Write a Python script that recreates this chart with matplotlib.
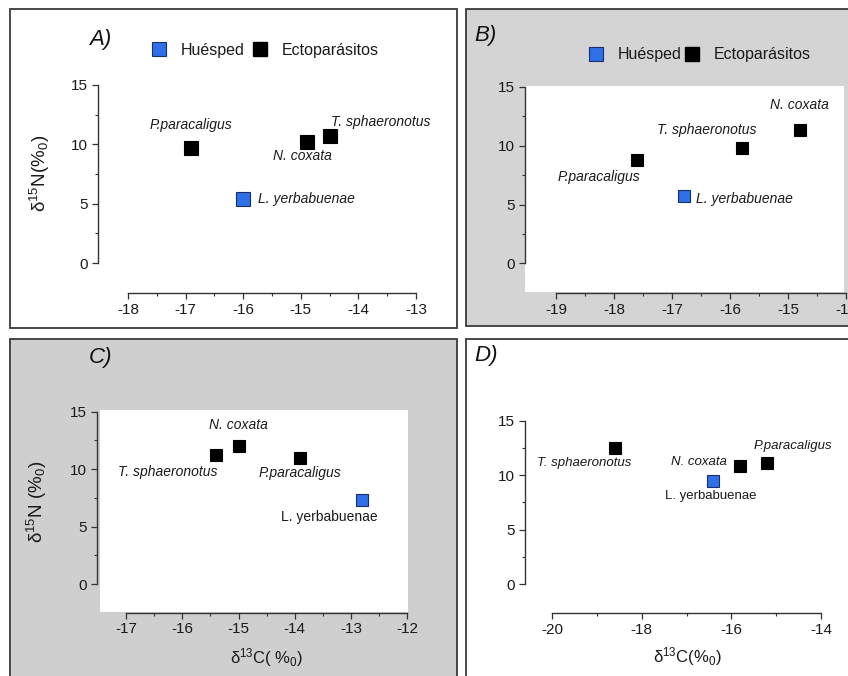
import matplotlib
matplotlib.use("Agg")
import numpy as np
import matplotlib.pyplot as plt
from matplotlib.patches import Rectangle
from matplotlib.lines import Line2D
from matplotlib.ticker import FixedLocator

plt.rcParams['font.family'] = ['Liberation Sans', 'DejaVu Sans']
plt.rcParams['mathtext.fontset'] = 'custom'
plt.rcParams['mathtext.rm'] = 'Liberation Sans'
plt.rcParams['mathtext.it'] = 'Liberation Sans:italic'
plt.rcParams['axes.unicode_minus'] = False

W, H = 848, 676

# ---- data (δ13C, δ15N) per panel ----
species_A = ["P.paracaligus", "N. coxata", "T. sphaeronotus", "L. yerbabuenae"]
d13C_A = [-16.9, -14.9, -14.5, -16.0]
d15N_A = [9.7, 10.2, 10.7, 5.4]
host_A = [False, False, False, True]

species_B = ["P.paracaligus", "T. sphaeronotus", "N. coxata", "L. yerbabuenae"]
d13C_B = [-17.6, -15.8, -14.8, -16.8]
d15N_B = [8.8, 9.8, 11.3, 5.7]
host_B = [False, False, False, True]

species_C = ["T. sphaeronotus", "N. coxata", "P.paracaligus", "L. yerbabuenae"]
d13C_C = [-15.4, -15.0, -13.9, -12.8]
d15N_C = [11.2, 12.0, 11.0, 7.3]
host_C = [False, False, False, True]

species_D = ["T. sphaeronotus", "N. coxata", "P.paracaligus", "L. yerbabuenae"]
d13C_D = [-18.6, -15.8, -15.2, -16.4]
d15N_D = [12.5, 10.8, 11.1, 9.5]
host_D = [False, False, False, True]

legend_labels = ["Huésped", "Ectoparásitos"]

HOST_COLOR = "#2f6fe8"
HOST_EDGE = "#1a2f6a"
PARA_COLOR = "#000000"
SPINE = "#333333"
GRAY_BG = "#d4d4d4"

fig = plt.figure(figsize=(W / 100, H / 100), dpi=100)
fig.patch.set_facecolor("white")


def fx(x):
    return x / W


def fy(y):
    return 1 - y / H


def panel_box(x0, y0, x1, y1, face):
    fig.patches.append(Rectangle((fx(x0), fy(y1)), fx(x1) - fx(x0), fy(y0) - fy(y1),
                                 transform=fig.transFigure, facecolor=face,
                                 edgecolor="#3a3a3a", linewidth=1.3, zorder=0))


def white_area(x0, y0, x1, y1):
    fig.patches.append(Rectangle((fx(x0), fy(y1)), fx(x1) - fx(x0), fy(y0) - fy(y1),
                                 transform=fig.transFigure, facecolor="white",
                                 edgecolor="none", zorder=0.5))


def make_axes(yspine_px, xa_px, xb_px, xa, xb, xspine_px, y0_px, y15_px, xstep):
    """Axes whose spines are detached from the data range (Prism style)."""
    ppx = (xb_px - xa_px) / (xb - xa)
    ppy = (y0_px - y15_px) / 15.0
    xmin = xa - (xa_px - yspine_px) / ppx
    ymin = 0 - (xspine_px - y0_px) / ppy
    ax = fig.add_axes([fx(yspine_px), fy(xspine_px),
                       fx(xb_px) - fx(yspine_px), fy(y15_px) - fy(xspine_px)])
    ax.set_zorder(3)
    ax.set_xlim(xmin, xb)
    ax.set_ylim(ymin, 15)
    ax.patch.set_alpha(0)
    for s in ["top", "right"]:
        ax.spines[s].set_visible(False)
    ax.spines["left"].set_bounds(0, 15)
    ax.spines["bottom"].set_bounds(xa, xb)
    for s in ["left", "bottom"]:
        ax.spines[s].set_color(SPINE)
        ax.spines[s].set_linewidth(1.0)
    ax.set_yticks([0, 5, 10, 15])
    ax.yaxis.set_minor_locator(FixedLocator([2.5, 7.5, 12.5]))
    majors = np.arange(xa, xb + 0.01, xstep)
    ax.set_xticks(majors)
    ax.set_xticklabels([f"{int(v)}" for v in majors])
    ax.xaxis.set_minor_locator(FixedLocator(majors[:-1] + xstep / 2))
    ax.tick_params(which="major", length=4, width=0.9, color=SPINE,
                   labelsize=11, labelcolor="#1a1a1a", pad=3)
    ax.tick_params(which="minor", length=2.2, width=0.8, color=SPINE)
    return ax


def draw_points(ax, xs, ys, hosts, ms):
    for x, y, h in zip(xs, ys, hosts):
        if h:
            ax.plot(x, y, "s", ms=ms, mfc=HOST_COLOR, mec=HOST_EDGE, mew=0.8,
                    clip_on=False, zorder=3)
        else:
            ax.plot(x, y, "s", ms=ms, mfc=PARA_COLOR, mec=PARA_COLOR, mew=0.8,
                    clip_on=False, zorder=3)


def label(ax, name, x, y, dx, dy, ha="center", style="italic", size=10):
    ax.annotate(name, (x, y), xytext=(dx / 1.389, dy / 1.389),
                textcoords="offset points", ha=ha, va="center",
                fontsize=size, style=style, color="#1a1a1a", zorder=4,
                annotation_clip=False)


def add_legend(ax, x_px, y_px, colspace):
    handles = [Line2D([], [], ls="none", marker="s", ms=9.5, mfc=HOST_COLOR, mec=HOST_EDGE, mew=0.8),
               Line2D([], [], ls="none", marker="s", ms=9.5, mfc=PARA_COLOR, mec=PARA_COLOR)]
    leg = ax.legend(handles, legend_labels, loc="center left",
                    bbox_to_anchor=(fx(x_px), fy(y_px)), bbox_transform=fig.transFigure,
                    ncol=2, frameon=False, fontsize=11.5, handlelength=1.0,
                    handletextpad=0.85, columnspacing=colspace, borderpad=0,
                    borderaxespad=0)
    for t in leg.get_texts():
        t.set_color("#1a1a1a")


def ylabel_text(x_px, y_px, text):
    fig.text(fx(x_px), fy(y_px), text, rotation=90, ha="center", va="center",
             fontsize=13.5, color="#1a1a1a", zorder=5)


def xlabel_text(x_px, y_px, text):
    fig.text(fx(x_px), fy(y_px), text, ha="center", va="center",
             fontsize=12, color="#1a1a1a", zorder=5)


def panel_tag(x_px, y_px, text):
    fig.text(fx(x_px), fy(y_px), text, ha="left", va="center",
             fontsize=16, style="italic", color="#111111", zorder=5)


# ---- panel frames ----
panel_box(10, 9, 457, 328, "white")
panel_box(466, 9, 852, 326, GRAY_BG)
panel_box(10, 339, 457, 680, "#cfcfcf")
panel_box(466, 339, 852, 680, "white")
white_area(525, 86, 844, 292)
white_area(100, 410, 408, 612)

# ---- A ----
axA = make_axes(98, 128, 416, -18, -13, 293, 263, 85, 1)
draw_points(axA, d13C_A, d15N_A, host_A, 9.5)
offA = {"P.paracaligus": (0, 23, "center"), "N. coxata": (-4, -14, "center"),
        "T. sphaeronotus": (1, 14, "left"), "L. yerbabuenae": (15, 0, "left")}
for n, x, y in zip(species_A, d13C_A, d15N_A):
    dx, dy, ha = offA[n]
    label(axA, n, x, y, dx, dy, ha=ha)
add_legend(axA, 151, 50, 0.5)
ylabel_text(40, 173, r"δ$^{15}$N(%$_0$)")
panel_tag(89, 40, "A)")

# ---- B ----
axB = make_axes(525, 556, 846, -19, -14, 293, 263.3, 87, 1)
draw_points(axB, d13C_B, d15N_B, host_B, 9)
offB = {"P.paracaligus": (-38, -17, "center"), "T. sphaeronotus": (-35, 18, "center"),
        "N. coxata": (0, 25, "center"), "L. yerbabuenae": (12, -3, "left")}
for n, x, y in zip(species_B, d13C_B, d15N_B):
    dx, dy, ha = offB[n]
    label(axB, n, x, y, dx, dy, ha=ha)
add_legend(axB, 588, 55, 0.15)
panel_tag(474, 35, "B)")

# ---- C ----
axC = make_axes(97, 126, 407.3, -17, -12, 612.7, 584, 411.7, 1)
draw_points(axC, d13C_C, d15N_C, host_C, 9)
offC = {"T. sphaeronotus": (-48, -17, "center", "italic"), "N. coxata": (0, 21, "center", "italic"),
        "P.paracaligus": (0, -15, "center", "italic"), "L. yerbabuenae": (-33, -17, "center", "normal")}
for n, x, y in zip(species_C, d13C_C, d15N_C):
    dx, dy, ha, st = offC[n]
    label(axC, n, x, y, dx, dy, ha=ha, style=st)
ylabel_text(37, 502, r"δ$^{15}$N (%$_0$)")
xlabel_text(267, 658, r"δ$^{13}$C( %$_0$)")
panel_tag(89, 357, "C)")

# ---- D ----
axD = make_axes(525, 552, 821, -20, -14, 613.3, 584, 420.7, 2)
draw_points(axD, d13C_D, d15N_D, host_D, 9)
offD = {"T. sphaeronotus": (-31, -15, "center", "italic"), "N. coxata": (-41, 4, "center", "italic"),
        "P.paracaligus": (26, 17, "center", "italic"), "L. yerbabuenae": (-3, -15, "center", "normal")}
for n, x, y in zip(species_D, d13C_D, d15N_D):
    dx, dy, ha, st = offD[n]
    label(axD, n, x, y, dx, dy, ha=ha, style=st, size=9.5)
xlabel_text(687, 657, r"δ$^{13}$C(%$_0$)")
panel_tag(474, 355, "D)")

fig.savefig("out.png", dpi=100, facecolor=fig.get_facecolor())
